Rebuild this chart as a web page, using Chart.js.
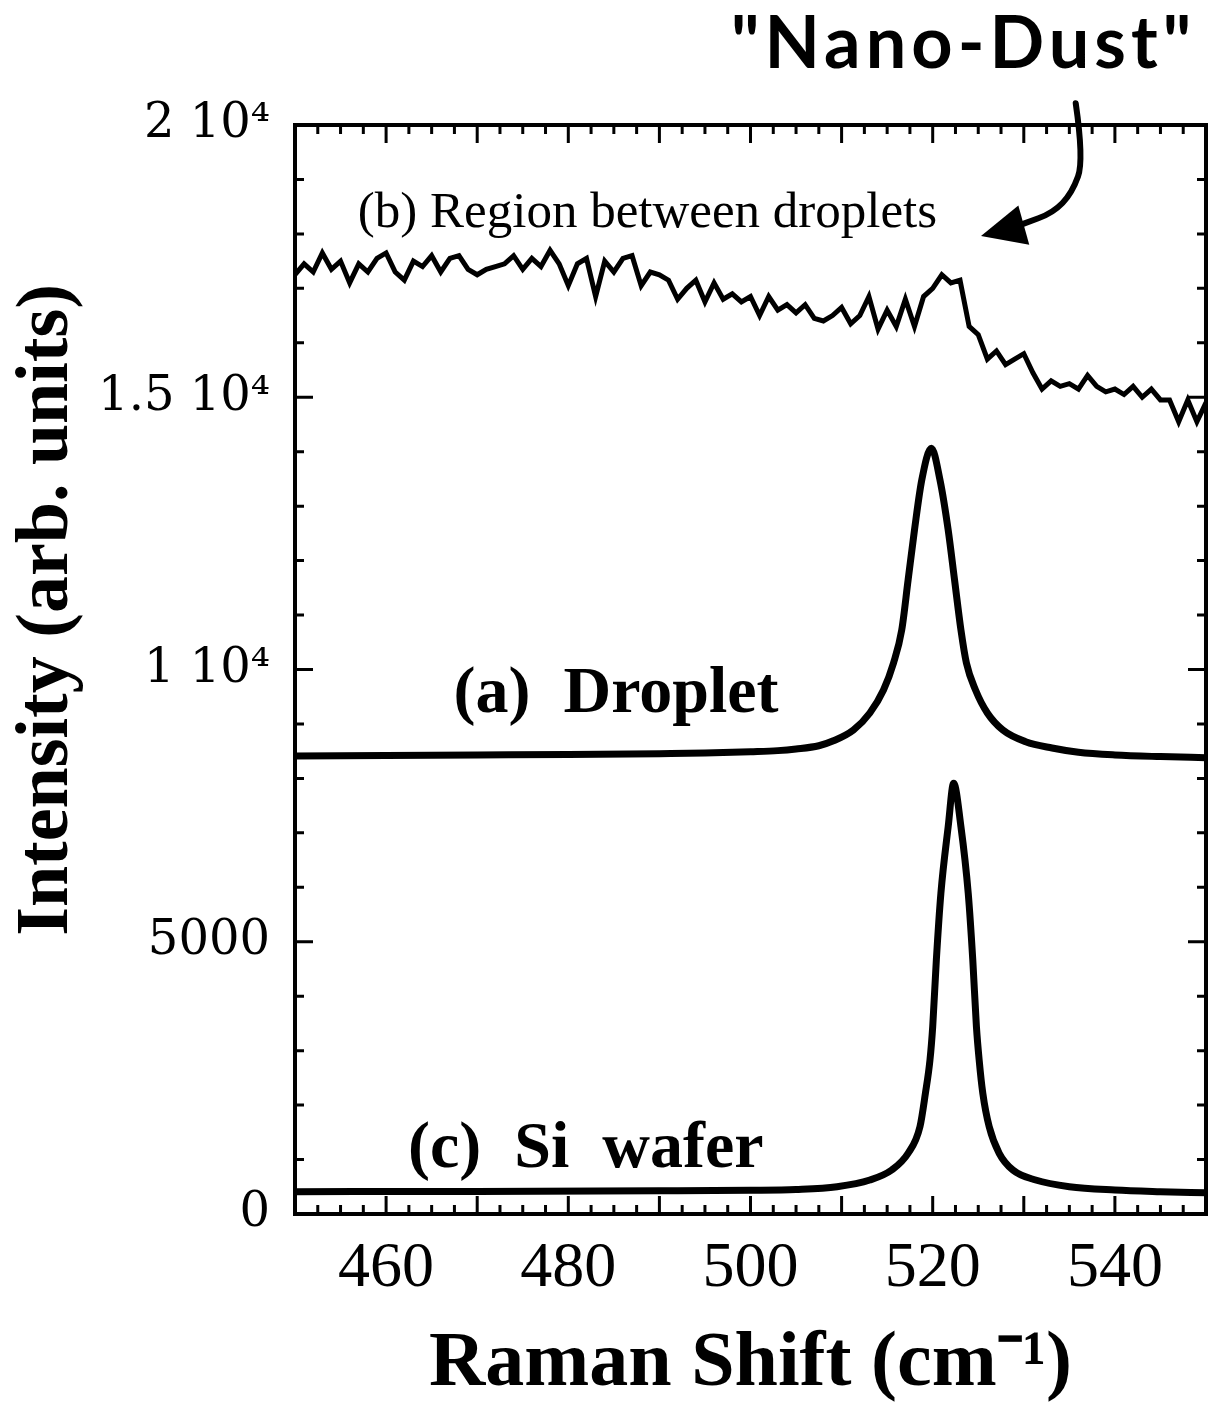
<!DOCTYPE html>
<html>
<head>
<meta charset="utf-8">
<script src="https://cdn.jsdelivr.net/npm/chart.js@4"></script>
<style>
  html, body { margin: 0; padding: 0; background: #fff; }
  #wrap { width: 1209px; height: 1406px; }
</style>
</head>
<body>
<div id="wrap"><canvas id="chart" width="1209" height="1406"></canvas></div>
<script>
// (b) region between droplets, one reading per cm-1
const regionShift = [
  450, 451, 452, 453, 454, 455, 456, 457, 458, 459,
  460, 461, 462, 463, 464, 465, 466, 467, 468, 469,
  470, 471, 472, 473, 474, 475, 476, 477, 478, 479,
  480, 481, 482, 483, 484, 485, 486, 487, 488, 489,
  490, 491, 492, 493, 494, 495, 496, 497, 498, 499,
  500, 501, 502, 503, 504, 505, 506, 507, 508, 509,
  510, 511, 512, 513, 514, 515, 516, 517, 518, 519,
  520, 521, 522, 523, 524, 525, 526, 527, 528, 529,
  530, 531, 532, 533, 534, 535, 536, 537, 538, 539,
  540, 541, 542, 543, 544, 545, 546, 547, 548, 549, 550
];
const regionIntensity = [
  17250, 17450, 17300, 17650, 17350, 17500, 17100, 17450, 17300, 17550,
  17650, 17300, 17150, 17500, 17400, 17600, 17300, 17550, 17600, 17350,
  17250, 17350, 17400, 17450, 17600, 17350, 17550, 17400, 17700, 17450,
  17050, 17450, 17550, 16850, 17500, 17300, 17550, 17600, 17050, 17300,
  17250, 17150, 16800, 17000, 17150, 16750, 17100, 16800, 16900, 16750,
  16850, 16500, 16850, 16600, 16700, 16550, 16700, 16450, 16400, 16500,
  16650, 16350, 16500, 16850, 16250, 16600, 16300, 16800, 16300, 16850,
  17000, 17250, 17100, 17150, 16300, 16150, 15700, 15850, 15600, 15700,
  15800, 15450, 15150, 15300, 15200, 15250, 15150, 15400, 15200, 15100,
  15150, 15050, 15200, 15000, 15150, 14950, 14950, 14550, 14950, 14550, 14900
];

// (a) droplet
const dropletShift = [
  450, 460, 470, 480, 490, 495, 500, 503, 505, 507.5,
  509.1, 511.3, 513.1, 514.6, 515.7, 516.6, 517.3, 518, 518.8, 519.85,
  520.8, 521.7, 522.4, 523.1, 523.7, 524.7, 526, 527.7, 530.2, 533.1,
  536, 540, 545, 550
];
const dropletIntensity = [
  8410, 8420, 8430, 8440, 8455, 8465, 8490, 8510, 8540, 8600,
  8690, 8889, 9201, 9623, 10119, 10725, 11643, 12562, 13480, 14062,
  13480, 12562, 11643, 10725, 10119, 9623, 9201, 8889, 8674, 8558,
  8480, 8430, 8400, 8380
];

// (c) Si wafer
const waferShift = [
  450, 470, 490, 500, 505, 509.5, 513.1, 515.5, 517.3, 518.6,
  519.2, 519.7, 520.0, 520.4, 520.9, 521.7, 522.3, 523.1, 523.9, 524.4,
  524.8, 525.1, 525.5, 526.2, 527.3, 528.8, 531.3, 535, 540, 545, 550
];
const waferIntensity = [
  410, 415, 425, 435, 450, 501, 624, 808, 1115, 1603,
  2217, 2828, 3440, 4665, 5890, 7113, 7910, 7113, 5890, 4665,
  3440, 2828, 2217, 1603, 1115, 808, 624, 501, 440, 410, 390
];

const xTickLabels = [460, 480, 500, 520, 540];
const yTickValues = [0, 5000, 10000, 15000, 20000];
const yTickLabels = ['0', '5000', '1 10\u2074', '1.5 10\u2074', '2 10\u2074'];

// text labels inside the plot, anchored in data units
const notes = [
  {text: '(b) Region between droplets', x: 456.9, y: 18380, font: '51px "Liberation Serif"'},
  {text: '(a)  Droplet', x: 467.4, y: 9530, font: 'bold 66px "Liberation Serif"'},
  {text: '(c)  Si  wafer', x: 462.4, y: 1175, font: 'bold 66px "Liberation Serif"'}
];
const nanoDust = {text: '"Nano-Dust"', x: 523.4, y: 21470};
const arrowStem = [[535.7, 20400], [536.6, 19357], [535.3, 18751], [533.2, 18384], [530.0, 18190]];
const arrowHead = [[525.3, 17961], [529.4, 18520], [530.6, 17800]];

const toPoints = (xs, ys) => xs.map((x, i) => ({x: x, y: ys[i]}));

const frame = {
  id: 'frame',
  afterDraw(chart) {
    const {ctx, chartArea: a, scales: {x, y}} = chart;
    ctx.save();
    ctx.strokeStyle = '#000';
    ctx.fillStyle = '#000';

    // inward ticks on all four sides
    ctx.lineWidth = 3;
    x.ticks.forEach((t) => {
      const px = x.getPixelForValue(t.value);
      const len = t.value % 10 === 0 ? 18 : 9;
      ctx.beginPath();
      ctx.moveTo(px, a.bottom); ctx.lineTo(px, a.bottom - len);
      ctx.moveTo(px, a.top); ctx.lineTo(px, a.top + len);
      ctx.stroke();
    });
    y.ticks.forEach((t) => {
      const py = y.getPixelForValue(t.value);
      const len = t.value % 5000 === 0 ? 18 : 9;
      ctx.beginPath();
      ctx.moveTo(a.left, py); ctx.lineTo(a.left + len, py);
      ctx.moveTo(a.right, py); ctx.lineTo(a.right - len, py);
      ctx.stroke();
    });

    ctx.lineWidth = 4;
    ctx.strokeRect(a.left, a.top, a.right - a.left, a.bottom - a.top);

    // labels
    ctx.textBaseline = 'middle';
    ctx.textAlign = 'left';
    notes.forEach((n) => {
      ctx.font = n.font;
      ctx.fillText(n.text, x.getPixelForValue(n.x), y.getPixelForValue(n.y));
    });

    ctx.textAlign = 'center';
    ctx.font = 'bold 72px Lato';
    ctx.letterSpacing = '5px';
    ctx.fillText(nanoDust.text, x.getPixelForValue(nanoDust.x), y.getPixelForValue(nanoDust.y));
    ctx.letterSpacing = '0px';

    // curved arrow
    const pts = arrowStem.map(([vx, vy]) => [x.getPixelForValue(vx), y.getPixelForValue(vy)]);
    ctx.lineWidth = 6;
    ctx.lineCap = 'round';
    ctx.beginPath();
    ctx.moveTo(pts[0][0], pts[0][1]);
    for (let i = 1; i < pts.length - 1; i++) {
      const mx = (pts[i][0] + pts[i + 1][0]) / 2;
      const my = (pts[i][1] + pts[i + 1][1]) / 2;
      ctx.quadraticCurveTo(pts[i][0], pts[i][1], mx, my);
    }
    ctx.lineTo(pts[pts.length - 1][0], pts[pts.length - 1][1]);
    ctx.stroke();
    ctx.beginPath();
    arrowHead.forEach(([vx, vy], i) => {
      const px = x.getPixelForValue(vx), py = y.getPixelForValue(vy);
      if (i === 0) ctx.moveTo(px, py); else ctx.lineTo(px, py);
    });
    ctx.closePath();
    ctx.fill();

    // y axis title
    ctx.save();
    ctx.translate(48, 610);
    ctx.rotate(-Math.PI / 2);
    ctx.textAlign = 'center';
    ctx.font = 'bold 74px "Liberation Serif"';
    ctx.fillText('Intensity (arb. units)', 0, 0);
    ctx.restore();

    ctx.restore();
  }
};

const lineStyle = {
  borderColor: '#000',
  borderWidth: 7,
  pointRadius: 0,
  fill: false
};

new Chart(document.getElementById('chart'), {
  type: 'line',
  data: {
    datasets: [
      {...lineStyle, label: '(b) Region between droplets', data: toPoints(regionShift, regionIntensity), borderWidth: 5, tension: 0},
      {...lineStyle, label: '(a) Droplet', data: toPoints(dropletShift, dropletIntensity), cubicInterpolationMode: 'monotone'},
      {...lineStyle, label: '(c) Si wafer', data: toPoints(waferShift, waferIntensity), cubicInterpolationMode: 'monotone'}
    ]
  },
  options: {
    responsive: false,
    animation: false,
    devicePixelRatio: 1,
    layout: {padding: {top: 125, right: 3, left: 0, bottom: 0}},
    plugins: {legend: {display: false}, tooltip: {enabled: false}},
    scales: {
      x: {
        type: 'linear',
        min: 450,
        max: 550,
        afterFit: (scale) => {
          scale.height = 192;
          scale.paddingLeft = 0;
          scale.paddingRight = 0;
        },
        grid: {display: false, drawTicks: false},
        border: {display: false},
        ticks: {
          stepSize: 2.5,
          autoSkip: false,
          maxRotation: 0,
          padding: 17,
          color: '#000',
          font: {family: '"Liberation Serif"', size: 64},
          callback: (v) => xTickLabels.includes(v) ? String(v) : ''
        },
        title: {
          display: true,
          text: 'Raman Shift (cm\u207B\u00B9)',
          color: '#000',
          font: {family: '"Liberation Serif"', size: 78, weight: 'bold', lineHeight: 1},
          padding: {top: 0, bottom: 2}
        }
      },
      y: {
        min: 0,
        max: 20000,
        afterFit: (scale) => { scale.width = 295; },
        grid: {display: false, drawTicks: false},
        border: {display: false},
        ticks: {
          stepSize: 1000,
          autoSkip: false,
          padding: 25,
          color: '#000',
          font: {family: '"DejaVu Serif"', size: 48},
          callback: (v) => {
            const i = yTickValues.indexOf(v);
            return i >= 0 ? yTickLabels[i] : '';
          }
        }
      }
    }
  },
  plugins: [frame]
});
</script>
</body>
</html>
